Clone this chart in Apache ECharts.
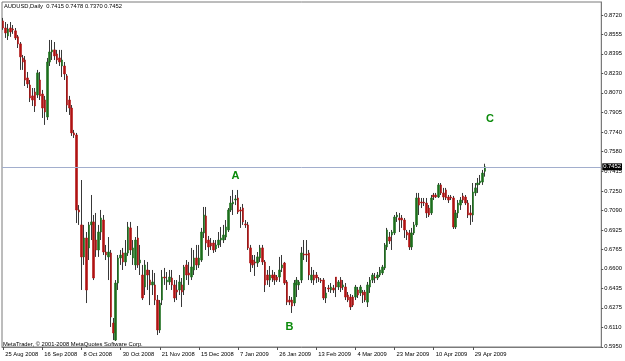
<!DOCTYPE html>
<html>
<head>
<meta charset="utf-8">
<script src="https://cdn.jsdelivr.net/npm/echarts@6/dist/echarts.min.js"></script>
<style>
html,body{margin:0;padding:0;background:#fff;}
#chart{width:625px;height:361px;}
</style>
</head>
<body>
<div id="chart"></div>
<script>
// ---- data ----
const symbolName = 'AUDUSD';
const timeframe = 'Daily';
const lastQuote = { open: 0.7415, high: 0.7478, low: 0.7370, close: 0.7452 };
const copyrightText = 'MetaTrader, \u00a9 2001-2008 MetaQuotes Software Corp.';

const tickLabels = ['25 Aug 2008','16 Sep 2008','8 Oct 2008','30 Oct 2008','21 Nov 2008','15 Dec 2008',
  '7 Jan 2009','26 Jan 2009','13 Feb 2009','4 Mar 2009','23 Mar 2009','10 Apr 2009','29 Apr 2009'];
const barsPerTick = 16;

const yTickValues = [0.5950,0.6110,0.6275,0.6435,0.6600,0.6765,0.6925,0.7090,0.7250,0.7415,
  0.7580,0.7740,0.7905,0.8070,0.8230,0.8395,0.8555,0.8720];

const opens = [
0.8670,0.8611,0.8545,0.8611,0.8603,0.8587,0.8537,0.8478,0.8361,0.8344,
0.8194,0.8135,0.8044,0.8077,0.8052,0.8177,0.8060,0.8010,0.7868,0.8327,
0.8411,0.8428,0.8394,0.8361,0.8294,0.8294,0.8211,0.8010,0.7943,0.7735,
0.7718,0.7092,0.6967,0.6700,0.6858,0.6775,0.6967,0.6992,0.6841,0.6758,
0.6908,0.7008,0.6741,0.6700,0.6733,0.6148,0.6006,0.6482,0.6691,0.6733,
0.6658,0.6733,0.6942,0.6691,0.6633,0.6858,0.6649,0.6549,0.6449,0.6591,
0.6507,0.6466,0.6466,0.6340,0.6090,0.6340,0.6532,0.6491,0.6491,0.6524,
0.6466,0.6424,0.6424,0.6466,0.6424,0.6633,0.6566,0.6532,0.6591,0.6691,
0.6633,0.6674,0.6900,0.7042,0.6841,0.6816,0.6816,0.6766,0.6800,0.6841,
0.6841,0.6866,0.6925,0.7092,0.7142,0.7175,0.7192,0.7092,0.7108,0.6975,
0.6967,0.6775,0.6674,0.6658,0.6649,0.6691,0.6775,0.6658,0.6549,0.6507,
0.6549,0.6549,0.6532,0.6532,0.6608,0.6649,0.6491,0.6340,0.6340,0.6315,
0.6466,0.6466,0.6507,0.6724,0.6724,0.6733,0.6507,0.6549,0.6549,0.6515,
0.6507,0.6507,0.6357,0.6441,0.6424,0.6441,0.6532,0.6449,0.6507,0.6449,
0.6449,0.6382,0.6365,0.6365,0.6365,0.6424,0.6399,0.6407,0.6407,0.6323,
0.6449,0.6507,0.6532,0.6524,0.6549,0.6566,0.6608,0.6783,0.6866,0.6883,
0.6900,0.7033,0.7025,0.7025,0.7008,0.6908,0.6900,0.6783,0.6900,0.6967,
0.7192,0.7158,0.7158,0.7150,0.7108,0.7067,0.7217,0.7217,0.7200,0.7301,
0.7234,0.7259,0.7200,0.7200,0.7192,0.6950,0.7067,0.7133,0.7209,0.7200,
0.7150,0.7067,0.7050,0.7234,0.7301,0.7317,0.7325,0.7415];

const closes = [
0.8611,0.8570,0.8603,0.8578,0.8595,0.8528,0.8478,0.8370,0.8327,0.8177,
0.8144,0.8027,0.8010,0.7960,0.8236,0.8044,0.7943,0.7910,0.8327,0.8411,
0.8428,0.8378,0.8344,0.8327,0.8344,0.8227,0.7968,0.7943,0.7735,0.7718,
0.7092,0.7075,0.6700,0.6858,0.6424,0.6967,0.6992,0.6524,0.6758,0.6908,
0.7025,0.6741,0.6716,0.6741,0.6198,0.6065,0.6482,0.6691,0.6716,0.6658,
0.6733,0.6950,0.6758,0.6775,0.6841,0.6633,0.6674,0.6357,0.6633,0.6549,
0.6466,0.6491,0.6340,0.6090,0.6315,0.6532,0.6524,0.6507,0.6532,0.6466,
0.6357,0.6407,0.6491,0.6407,0.6616,0.6549,0.6549,0.6616,0.6691,0.6633,
0.6691,0.6908,0.7050,0.6816,0.6783,0.6791,0.6758,0.6800,0.6841,0.6858,
0.6883,0.6950,0.7092,0.7150,0.7158,0.7184,0.7075,0.7083,0.6992,0.6967,
0.6775,0.6649,0.6633,0.6649,0.6700,0.6775,0.6658,0.6466,0.6507,0.6549,
0.6524,0.6507,0.6507,0.6591,0.6633,0.6482,0.6323,0.6323,0.6290,0.6482,
0.6507,0.6491,0.6733,0.6716,0.6716,0.6549,0.6549,0.6507,0.6524,0.6515,
0.6499,0.6357,0.6399,0.6432,0.6449,0.6424,0.6449,0.6491,0.6441,0.6466,
0.6365,0.6340,0.6282,0.6298,0.6449,0.6382,0.6449,0.6382,0.6340,0.6466,
0.6507,0.6549,0.6524,0.6549,0.6591,0.6616,0.6800,0.6925,0.6833,0.6908,
0.7033,0.7050,0.7008,0.7008,0.6925,0.6883,0.6783,0.6900,0.6967,0.7192,
0.7133,0.7150,0.7150,0.7067,0.7050,0.7192,0.7200,0.7200,0.7301,0.7234,
0.7200,0.7192,0.7175,0.7192,0.6950,0.7067,0.7150,0.7175,0.7175,0.7150,
0.7050,0.7050,0.7242,0.7276,0.7317,0.7334,0.7400,0.7452];

const lows = [
0.8595,0.8528,0.8511,0.8537,0.8562,0.8511,0.8444,0.8261,0.8261,0.8127,
0.8110,0.7993,0.7960,0.7910,0.8027,0.8010,0.7860,0.7802,0.7843,0.8294,
0.8344,0.8344,0.8311,0.8294,0.8202,0.8177,0.7910,0.7885,0.7710,0.7693,
0.6983,0.6967,0.6424,0.6633,0.6315,0.6674,0.6841,0.6507,0.6700,0.6700,
0.6841,0.6716,0.6674,0.6507,0.6115,0.6006,0.5998,0.6424,0.6633,0.6591,
0.6624,0.6708,0.6716,0.6633,0.6591,0.6608,0.6549,0.6340,0.6382,0.6424,
0.6298,0.6382,0.6298,0.6048,0.6065,0.6298,0.6466,0.6424,0.6466,0.6424,
0.6323,0.6340,0.6382,0.6282,0.6382,0.6507,0.6466,0.6507,0.6549,0.6591,
0.6608,0.6658,0.6858,0.6758,0.6708,0.6758,0.6733,0.6741,0.6775,0.6783,
0.6816,0.6841,0.6908,0.7075,0.7050,0.7133,0.7058,0.6942,0.6967,0.6942,
0.6758,0.6574,0.6608,0.6541,0.6616,0.6658,0.6633,0.6407,0.6466,0.6449,
0.6491,0.6466,0.6491,0.6491,0.6574,0.6466,0.6298,0.6298,0.6232,0.6290,
0.6365,0.6424,0.6482,0.6674,0.6658,0.6507,0.6482,0.6466,0.6482,0.6491,
0.6482,0.6340,0.6315,0.6407,0.6399,0.6399,0.6365,0.6424,0.6407,0.6424,
0.6340,0.6323,0.6257,0.6282,0.6340,0.6357,0.6374,0.6315,0.6323,0.6282,
0.6399,0.6482,0.6482,0.6507,0.6532,0.6549,0.6591,0.6758,0.6808,0.6758,
0.6883,0.6992,0.6908,0.6942,0.6858,0.6841,0.6758,0.6758,0.6883,0.6950,
0.7050,0.7108,0.7125,0.7025,0.7033,0.7050,0.7175,0.7192,0.7192,0.7217,
0.7175,0.7175,0.7150,0.7175,0.6933,0.6933,0.7025,0.7092,0.7150,0.7133,
0.7025,0.6967,0.6992,0.7209,0.7234,0.7301,0.7301,0.7370];

const highs = [
0.8695,0.8661,0.8645,0.8661,0.8636,0.8611,0.8553,0.8494,0.8386,0.8377,
0.8244,0.8177,0.8110,0.8110,0.8261,0.8244,0.8094,0.8044,0.8361,0.8511,
0.8511,0.8494,0.8428,0.8428,0.8428,0.8327,0.8227,0.8044,0.7968,0.7760,
0.7735,0.7133,0.7342,0.6967,0.6908,0.6992,0.7217,0.7050,0.7067,0.6967,
0.7092,0.7050,0.6800,0.6866,0.6758,0.6190,0.6507,0.6716,0.6758,0.6775,
0.6841,0.6992,0.6992,0.6841,0.6866,0.6958,0.6800,0.6633,0.6674,0.6658,
0.6591,0.6591,0.6566,0.6382,0.6340,0.6591,0.6608,0.6574,0.6591,0.6591,
0.6507,0.6507,0.6549,0.6524,0.6633,0.6674,0.6658,0.6775,0.6758,0.6800,
0.6800,0.6942,0.7117,0.7117,0.6875,0.6858,0.6841,0.6841,0.6908,0.6950,
0.6967,0.7008,0.7108,0.7209,0.7259,0.7217,0.7259,0.7117,0.7142,0.7008,
0.6992,0.6800,0.6716,0.6716,0.6741,0.6800,0.6800,0.6674,0.6591,0.6624,
0.6591,0.6574,0.6549,0.6700,0.6716,0.6658,0.6507,0.6374,0.6365,0.6507,
0.6532,0.6507,0.6783,0.6841,0.6841,0.6758,0.6616,0.6591,0.6574,0.6532,
0.6524,0.6524,0.6449,0.6466,0.6482,0.6466,0.6532,0.6507,0.6532,0.6507,
0.6482,0.6407,0.6390,0.6382,0.6466,0.6449,0.6466,0.6424,0.6424,0.6491,
0.6532,0.6566,0.6566,0.6574,0.6616,0.6633,0.6816,0.6942,0.6908,0.6925,
0.7050,0.7075,0.7067,0.7050,0.7025,0.6925,0.6925,0.6942,0.6992,0.7234,
0.7234,0.7192,0.7192,0.7192,0.7133,0.7217,0.7234,0.7234,0.7317,0.7317,
0.7276,0.7276,0.7217,0.7217,0.7209,0.7092,0.7175,0.7200,0.7234,0.7217,
0.7175,0.7133,0.7317,0.7317,0.7359,0.7384,0.7426,0.7478];

// wave labels: bar index and price level
const waveLabels = ['A','B','C'];
const waveIndex = [95, 117, 199];
const wavePrice = [0.7378, 0.6117, 0.7851];

const emptyBarsRight = 47;   // chart shift area on the right
// ---------------------------------------

const nBars = opens.length;
const categories = [];
for (let i = 0; i < nBars + emptyBarsRight; i++) categories.push(String(i));
const ohlc = opens.map((o, i) => [o, closes[i], lows[i], highs[i]]);
// bodies only (open/close range) drawn on top of the dark wicks
const bodies = opens.map((o, i) => [o, closes[i], Math.min(o, closes[i]), Math.max(o, closes[i])]);

const FONT = '"Liberation Sans", Arial, sans-serif';
const FS = 5.8;
const WICK = '#383838';
const isTick = (idx) => idx % barsPerTick === 0 && idx / barsPerTick < tickLabels.length;

const chart = echarts.init(document.getElementById('chart'), null, { renderer: 'canvas' });
chart.setOption({
  animation: false,
  backgroundColor: '#ffffff',
  title: [
    {
      text: symbolName + ',' + timeframe + '  ' + [lastQuote.open, lastQuote.high, lastQuote.low, lastQuote.close].map(v => v.toFixed(4)).join(' '),
      left: 4, top: 3, padding: 0,
      textStyle: { fontFamily: FONT, fontSize: FS, fontWeight: 'normal', color: '#000' }
    },
    {
      text: copyrightText,
      left: 3, top: 341, padding: 0,
      textStyle: { fontFamily: FONT, fontSize: FS, fontWeight: 'normal', color: '#000' }
    }
  ],
  grid: {
    left: 2, right: 23, top: 2, bottom: 14,
    show: true, borderColor: '#7a7a7a', borderWidth: 1, backgroundColor: '#fff'
  },
  xAxis: {
    type: 'category',
    data: categories,
    boundaryGap: true,
    axisLine: { show: true, lineStyle: { color: '#7a7a7a', width: 1 } },
    axisTick: { show: true, alignWithLabel: true, length: 3, interval: (i) => isTick(i), lineStyle: { color: '#555' } },
    axisLabel: {
      show: true, interval: (i) => isTick(i), align: 'left', margin: 4,
      padding: [0, 0, 0, 2],
      fontFamily: FONT, fontSize: FS, color: '#000',
      formatter: (v, i) => tickLabels[i / barsPerTick] || ''
    },
    splitLine: { show: false }
  },
  yAxis: {
    type: 'value',
    position: 'right',
    min: 0.5948, max: 0.8828,
    scale: true,
    axisLine: { show: true, lineStyle: { color: '#7a7a7a', width: 1 } },
    axisTick: { show: true, inside: false, length: 2, customValues: yTickValues, lineStyle: { color: '#555' } },
    axisLabel: {
      show: true, customValues: yTickValues, margin: 3,
      fontFamily: FONT, fontSize: FS, color: '#000',
      formatter: (v) => v.toFixed(4)
    },
    splitLine: { show: false }
  },
  series: [
    {
      type: 'candlestick',
      name: 'wicks',
      data: ohlc,
      barWidth: 1,
      itemStyle: { color: WICK, color0: WICK, borderColor: WICK, borderColor0: WICK, borderWidth: 1 },
      markLine: {
        silent: true, symbol: 'none', precision: 4,
        lineStyle: { color: '#a2aecd', width: 1, type: 'solid' },
        label: {
          show: true, position: 'end', distance: 1,
          formatter: () => lastQuote.close.toFixed(4),
          backgroundColor: '#000', color: '#fff', padding: [1, 1, 0, 1],
          fontFamily: FONT, fontSize: FS
        },
        data: [{ yAxis: lastQuote.close }]
      },
      markPoint: {
        silent: true,
        symbol: 'circle', symbolSize: 0,
        label: { show: true, position: 'inside', color: '#0a8a0a', fontWeight: 'bold', fontSize: 11, fontFamily: FONT },
        data: waveLabels.map((t, k) => ({ coord: [waveIndex[k], wavePrice[k]], value: t, label: { formatter: t } }))
      }
    },
    {
      type: 'candlestick',
      name: 'bodies',
      data: bodies,
      barWidth: 2,
      itemStyle: { color: '#1c6e1c', color0: '#b01212', borderColor: '#1c6e1c', borderColor0: '#b01212', borderWidth: 0.6 }
    }
  ]
});
</script>
</body>
</html>
